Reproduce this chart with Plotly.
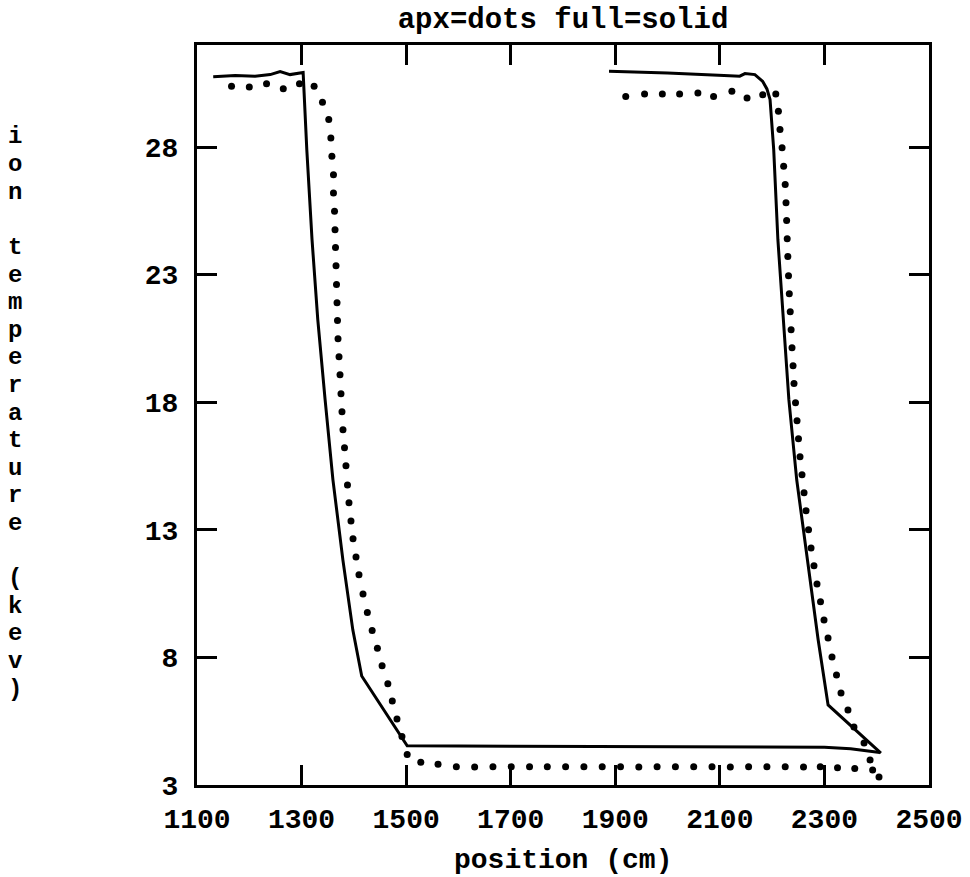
import plotly.graph_objects as go

# ---------------- data ----------------
# solid ("full") profiles
full_left_x = [1131, 1173, 1211, 1240, 1259, 1278, 1303, 1310, 1320, 1331, 1345, 1360, 1379, 1398, 1415,
               1502, 1700, 2000, 2300, 2350, 2406]
full_left_y = [30.76, 30.80, 30.78, 30.84, 30.96, 30.84, 30.92, 27.9, 24.37, 21.24, 18.1, 14.96, 11.82, 9.08, 7.27,
               4.54, 4.52, 4.50, 4.48, 4.42, 4.27]

full_right_x = [1888, 2000, 2108, 2138, 2148, 2167, 2182, 2190, 2196, 2203, 2211, 2221, 2232, 2247, 2267, 2288,
                2307, 2408]
full_right_y = [30.97, 30.9, 30.80, 30.78, 30.88, 30.84, 30.57, 30.28, 29.86, 27.9, 24.37, 21.24, 18.1, 14.96,
                11.82, 8.69, 6.14, 4.25]

# dotted ("apx") profiles
apx_left_x = [1166, 1200, 1233, 1265, 1296, 1324, 1340, 1352, 1356, 1358, 1361, 1361, 1363, 1364,
              1364.9, 1365.9, 1366.8, 1367.8, 1368.7, 1369.7, 1371.6, 1373.5, 1375.4, 1377.3, 1379.2,
              1382.1, 1384.9, 1387.8, 1390.7, 1394.5, 1398.4, 1404.1, 1409.8, 1417.5,
              1425.8, 1435, 1445, 1454, 1465, 1473.5, 1482.5, 1492, 1502,
              1528, 1561, 1596, 1631, 1666, 1701, 1736, 1770, 1805, 1840, 1875, 1910, 1945, 1980,
              2015, 2050, 2085, 2120, 2155, 2190, 2225, 2260, 2292, 2325, 2358]
apx_left_y = [30.38, 30.35, 30.48, 30.29, 30.48, 30.38, 29.76, 29.08, 28.36, 27.64, 26.92, 26.2, 25.48, 24.76,
              24.06, 23.35, 22.61, 21.9, 21.2, 20.49, 19.78, 19.08, 18.33, 17.63, 16.92,
              16.22, 15.51, 14.76, 14.06, 13.35, 12.65, 11.94, 11.24, 10.49,
              9.76, 9.05, 8.36, 7.67, 6.97, 6.29, 5.59, 4.9, 4.2,
              3.89, 3.81, 3.72, 3.71, 3.72, 3.72, 3.72, 3.72, 3.72, 3.72, 3.72, 3.72, 3.71, 3.72,
              3.72, 3.72, 3.72, 3.71, 3.72, 3.72, 3.72, 3.71, 3.72, 3.68, 3.65]

apx_right_x = [1920, 1956, 1990, 2023, 2058, 2088, 2123, 2152, 2182, 2207, 2212, 2215, 2219, 2222, 2225,
               2226.5, 2227.7, 2228.8, 2230, 2231.3, 2232.8, 2234.6, 2236.3, 2238, 2240, 2241.8, 2244.7,
               2247.6, 2250.4, 2253.3, 2257.1, 2261, 2264.8, 2269.6, 2274.4, 2280, 2285.8, 2292.5, 2299.2,
               2306.9, 2314.5, 2323.1, 2331.7, 2345, 2356.5, 2375.8, 2387.3, 2392.2, 2404.4]
apx_right_y = [29.98, 30.08, 30.08, 30.08, 30.12, 29.98, 30.19, 29.92, 30.05, 30.08, 29.4, 28.69, 27.97, 27.25,
               26.53,
               25.82, 25.12, 24.41, 23.71, 22.96, 22.25, 21.55, 20.84, 20.14, 19.43, 18.73, 17.98,
               17.27, 16.57, 15.86, 15.16, 14.45, 13.75, 13.0, 12.29, 11.59, 10.88, 10.18, 9.47,
               8.76, 8.02, 7.31, 6.61, 5.94, 5.27, 4.65, 3.98, 3.59, 3.31]

x_ticks = [1100, 1300, 1500, 1700, 1900, 2100, 2300, 2500]
y_ticks = [3, 8, 13, 18, 23, 28]

title_text = "apx=dots full=solid"
x_title = "position (cm)"
y_title = "ion temperature (kev)"

# ---------------- figure ----------------
FONT = "Liberation Mono, Courier New, monospace"
fig = go.Figure()

dot_style = dict(mode="markers", marker=dict(color="black", size=7), showlegend=False, hoverinfo="skip")
fig.add_trace(go.Scatter(x=apx_left_x, y=apx_left_y, **dot_style))
fig.add_trace(go.Scatter(x=apx_right_x, y=apx_right_y, **dot_style))

line_style = dict(mode="lines", line=dict(color="black", width=3), showlegend=False, hoverinfo="skip")
fig.add_trace(go.Scatter(x=full_left_x, y=full_left_y, **line_style))
fig.add_trace(go.Scatter(x=full_right_x, y=full_right_y, **line_style))

axis_common = dict(
    showgrid=False, zeroline=False, showline=True, linecolor="black", linewidth=3,
    mirror="ticks", ticks="inside", ticklen=20, tickwidth=3, tickcolor="black", automargin=False,
    tickfont=dict(family=FONT, size=28, color="black", weight="bold"),
)
fig.update_xaxes(range=[1100, 2500], tickvals=x_ticks, ticktext=[str(v) for v in x_ticks],
                 ticklabelstandoff=6, **axis_common)
fig.update_yaxes(range=[3, 32], tickvals=y_ticks, ticktext=[str(v) for v in y_ticks],
                 ticklabelstandoff=10, **axis_common)

W, H = 970, 877
L, R, T, B = 197, 41, 45, 92
fig.update_layout(
    width=W, height=H,
    margin=dict(l=L, r=R, t=T, b=B, pad=0, autoexpand=False),
    paper_bgcolor="white", plot_bgcolor="white",
    title=dict(text=title_text, x=0.5, xref="paper", xanchor="center",
               y=1 - 18 / H, yref="container", yanchor="middle",
               font=dict(family=FONT, size=29, color="black", weight="bold")),
)

plot_w = W - L - R
plot_h = H - T - B
fig.add_annotation(text=x_title, xref="paper", yref="paper", x=0.5, y=(H - B - 860) / plot_h,
                   xanchor="center", yanchor="middle", showarrow=False,
                   font=dict(family=FONT, size=28, color="black", weight="bold"))

# vertical axis title: one character per row, as in the reference
for i, ch in enumerate(y_title):
    if ch == " ":
        continue
    py = 137 + 27.6 * i
    fig.add_annotation(text=ch, xref="paper", yref="paper",
                       x=(15 - L) / plot_w, y=(H - B - py) / plot_h,
                       xanchor="center", yanchor="middle", showarrow=False,
                       font=dict(family=FONT, size=24, color="black", weight="bold"))

fig.write_html("out.html")
